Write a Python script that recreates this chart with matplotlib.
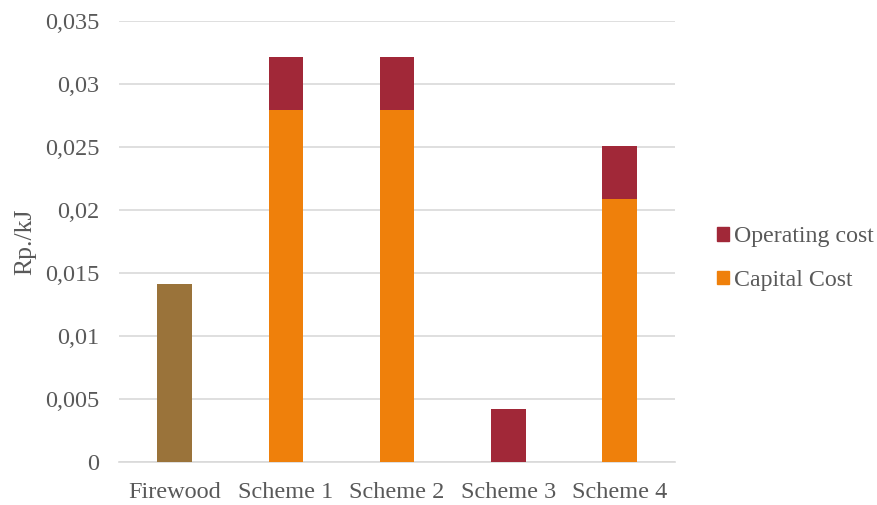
import matplotlib
matplotlib.use("Agg")
import matplotlib.pyplot as plt
from matplotlib.patches import Patch
from matplotlib.ticker import FuncFormatter

categories = ["Firewood", "Scheme 1", "Scheme 2", "Scheme 3", "Scheme 4"]
capital_cost = [0.0, 0.0279, 0.0279, 0.0, 0.0209]
operating_cost = [0.0, 0.0042, 0.0042, 0.0042, 0.0042]
firewood_cost = [0.0141, 0.0, 0.0, 0.0, 0.0]

C_OP = "#A12838"
C_CAP = "#EF800B"
C_FW = "#9A733A"
TXT = "#595959"

plt.rcParams["font.family"] = ["Liberation Serif", "DejaVu Serif"]

fig = plt.figure(figsize=(8.78, 5.05), dpi=100)
ax = fig.add_axes([0.1355, 0.0846, 0.769 - 0.1355, 0.959 - 0.0846])

x = list(range(len(categories)))
w = 0.31
ax.bar(x, firewood_cost, w, color=C_FW, zorder=3)
ax.bar(x, capital_cost, w, color=C_CAP, zorder=3)
ax.bar(x, operating_cost, w, bottom=capital_cost, color=C_OP, zorder=3)

ax.set_xlim(-0.5, len(categories) - 0.5)
ax.set_ylim(0, 0.035)
ax.set_yticks([i * 0.005 for i in range(8)])
ax.yaxis.set_major_formatter(FuncFormatter(lambda v, p: ("%g" % round(v, 3)).replace(".", ",")))
ax.set_xticks(x)
ax.set_xticklabels(categories)
ax.grid(axis="y", color="#D9D9D9", linewidth=1.2, zorder=0)
for s in ["top", "right", "left"]:
    ax.spines[s].set_visible(False)
ax.spines["bottom"].set_color("#D9D9D9")
ax.spines["bottom"].set_linewidth(1.2)
ax.tick_params(axis="both", length=0, colors=TXT, labelsize=17.5)
ax.tick_params(axis="x", pad=14.5)
ax.tick_params(axis="y", pad=14)
ax.set_ylabel("Rp./kJ", fontsize=18.5, color=TXT, labelpad=6)

handles = [Patch(color=C_OP, label="Operating cost"), Patch(color=C_CAP, label="Capital Cost")]
leg = fig.legend(handles=handles, loc="center left", bbox_to_anchor=(0.8166, 0.488),
                 frameon=False, fontsize=17.2, handlelength=0.5, handleheight=0.5,
                 handletextpad=0.2, labelspacing=0.95, borderpad=0, borderaxespad=0)
for t in leg.get_texts():
    t.set_color(TXT)

fig.savefig("out.png", dpi=100)
